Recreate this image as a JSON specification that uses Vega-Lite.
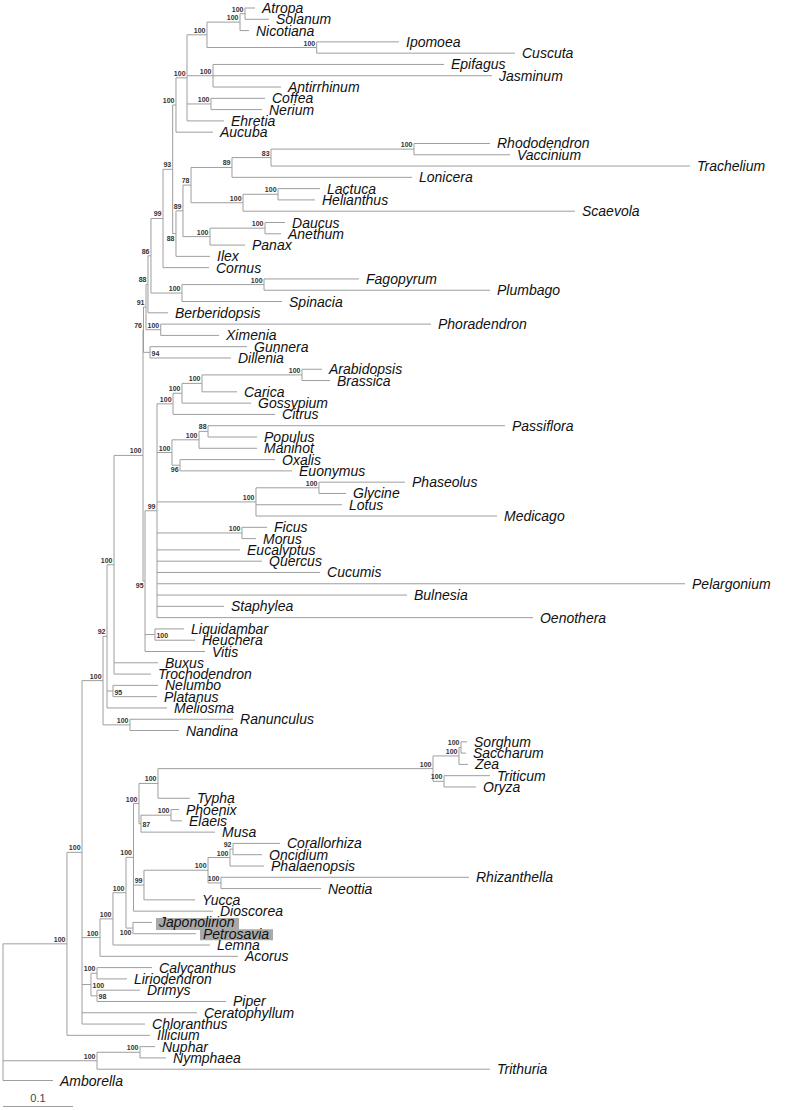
{
"$schema": "https://vega.github.io/schema/vega-lite/v6.json",
"width": 788, "height": 1110, "padding": 0, "autosize": {"type": "none"},
"background": "white",
"config": {"view": {"stroke": null}},
"datasets": {
"nodes": [
{"taxon":"Atropa","parent":"n_AS","d":0.36,"y":0},
{"taxon":"Solanum","parent":"n_AS","d":0.38,"y":1},
{"taxon":"Nicotiana","parent":"n_ASN","d":0.3514,"y":2},
{"taxon":"Ipomoea","parent":"n_IC","d":0.5657,"y":3},
{"taxon":"Cuscuta","parent":"n_IC","d":0.7314,"y":4},
{"taxon":"Epifagus","parent":"n_EJA","d":0.63,"y":5},
{"taxon":"Jasminum","parent":"n_EJA","d":0.6986,"y":6},
{"taxon":"Antirrhinum","parent":"n_EJA","d":0.3971,"y":7},
{"taxon":"Coffea","parent":"n_CN","d":0.3743,"y":8},
{"taxon":"Nerium","parent":"n_CN","d":0.37,"y":9},
{"taxon":"Ehretia","parent":"n_L","d":0.3157,"y":10},
{"taxon":"Aucuba","parent":"n_A","d":0.3,"y":11},
{"taxon":"Rhododendron","parent":"n_RV","d":0.6957,"y":12},
{"taxon":"Vaccinium","parent":"n_RV","d":0.7243,"y":13},
{"taxon":"Trachelium","parent":"n_N83","d":0.9814,"y":14},
{"taxon":"Lonicera","parent":"n_N89b","d":0.5843,"y":15},
{"taxon":"Lactuca","parent":"n_LH","d":0.4529,"y":16},
{"taxon":"Helianthus","parent":"n_LH","d":0.4457,"y":17},
{"taxon":"Scaevola","parent":"n_Ast","d":0.8171,"y":18},
{"taxon":"Daucus","parent":"n_DA","d":0.4029,"y":19},
{"taxon":"Anethum","parent":"n_DA","d":0.3971,"y":20},
{"taxon":"Panax","parent":"n_Api","d":0.3457,"y":21},
{"taxon":"Ilex","parent":"n_N88a","d":0.2957,"y":22},
{"taxon":"Cornus","parent":"n_N99a","d":0.2943,"y":23},
{"taxon":"Fagopyrum","parent":"n_FP","d":0.5086,"y":24},
{"taxon":"Plumbago","parent":"n_FP","d":0.6957,"y":25},
{"taxon":"Spinacia","parent":"n_Car","d":0.3986,"y":26},
{"taxon":"Berberidopsis","parent":"n_N88b","d":0.2357,"y":27},
{"taxon":"Phoradendron","parent":"n_San","d":0.6114,"y":28},
{"taxon":"Ximenia","parent":"n_San","d":0.3086,"y":29},
{"taxon":"Gunnera","parent":"n_GD","d":0.3486,"y":30},
{"taxon":"Dillenia","parent":"n_GD","d":0.3257,"y":31},
{"taxon":"Arabidopsis","parent":"n_AB","d":0.4557,"y":32},
{"taxon":"Brassica","parent":"n_AB","d":0.4671,"y":33},
{"taxon":"Carica","parent":"n_ABC","d":0.3343,"y":34},
{"taxon":"Gossypium","parent":"n_ABCG","d":0.3543,"y":35},
{"taxon":"Citrus","parent":"n_Malv","d":0.3886,"y":36},
{"taxon":"Passiflora","parent":"n_PP","d":0.7171,"y":37},
{"taxon":"Populus","parent":"n_PP","d":0.3629,"y":38},
{"taxon":"Manihot","parent":"n_PM","d":0.3629,"y":39},
{"taxon":"Oxalis","parent":"n_OE","d":0.3886,"y":40},
{"taxon":"Euonymus","parent":"n_OE","d":0.4129,"y":41},
{"taxon":"Phaseolus","parent":"n_PG","d":0.5743,"y":42},
{"taxon":"Glycine","parent":"n_PG","d":0.49,"y":43},
{"taxon":"Lotus","parent":"n_Fab","d":0.4843,"y":44},
{"taxon":"Medicago","parent":"n_Fab","d":0.7057,"y":45},
{"taxon":"Ficus","parent":"n_FM","d":0.3771,"y":46},
{"taxon":"Morus","parent":"n_FM","d":0.3614,"y":47},
{"taxon":"Eucalyptus","parent":"n_N99r","d":0.3386,"y":48},
{"taxon":"Quercus","parent":"n_N99r","d":0.37,"y":49},
{"taxon":"Cucumis","parent":"n_N99r","d":0.4529,"y":50},
{"taxon":"Pelargonium","parent":"n_N99r","d":0.9743,"y":51},
{"taxon":"Bulnesia","parent":"n_N99r","d":0.5771,"y":52},
{"taxon":"Staphylea","parent":"n_N99r","d":0.3157,"y":53},
{"taxon":"Oenothera","parent":"n_N99r","d":0.7571,"y":54},
{"taxon":"Liquidambar","parent":"n_Sax","d":0.2586,"y":55},
{"taxon":"Heuchera","parent":"n_Sax","d":0.2743,"y":56},
{"taxon":"Vitis","parent":"n_N95","d":0.2886,"y":57},
{"taxon":"Buxus","parent":"n_N100b","d":0.2214,"y":58},
{"taxon":"Trochodendron","parent":"n_N100b","d":0.2114,"y":59},
{"taxon":"Nelumbo","parent":"n_NP","d":0.2214,"y":60},
{"taxon":"Platanus","parent":"n_NP","d":0.22,"y":61},
{"taxon":"Meliosma","parent":"n_N92","d":0.2343,"y":62},
{"taxon":"Ranunculus","parent":"n_Ran","d":0.3286,"y":63},
{"taxon":"Nandina","parent":"n_Ran","d":0.2514,"y":64},
{"taxon":"Sorghum","parent":"n_SS","d":0.6629,"y":65},
{"taxon":"Saccharum","parent":"n_SS","d":0.6614,"y":66},
{"taxon":"Zea","parent":"n_PAC","d":0.6643,"y":67},
{"taxon":"Triticum","parent":"n_BEP","d":0.6957,"y":68},
{"taxon":"Oryza","parent":"n_BEP","d":0.6757,"y":69},
{"taxon":"Typha","parent":"n_Poa","d":0.2671,"y":70},
{"taxon":"Phoenix","parent":"n_Are","d":0.2514,"y":71},
{"taxon":"Elaeis","parent":"n_Are","d":0.2557,"y":72},
{"taxon":"Musa","parent":"n_N87","d":0.3029,"y":73},
{"taxon":"Corallorhiza","parent":"n_CO","d":0.3957,"y":74},
{"taxon":"Oncidium","parent":"n_CO","d":0.37,"y":75},
{"taxon":"Phalaenopsis","parent":"n_Epi","d":0.3729,"y":76},
{"taxon":"Rhizanthella","parent":"n_RN","d":0.6657,"y":77},
{"taxon":"Neottia","parent":"n_RN","d":0.4543,"y":78},
{"taxon":"Yucca","parent":"n_Asp","d":0.2743,"y":79},
{"taxon":"Dioscorea","parent":"n_N100x","d":0.3,"y":80},
{"taxon":"Japonolirion","parent":"n_Pet","d":0.2129,"y":81},
{"taxon":"Petrosavia","parent":"n_Pet","d":0.2757,"y":82},
{"taxon":"Lemna","parent":"n_N100g","d":0.2957,"y":83},
{"taxon":"Acorus","parent":"n_Mono","d":0.3357,"y":84},
{"taxon":"Calycanthus","parent":"n_LM","d":0.2129,"y":85},
{"taxon":"Liriodendron","parent":"n_LM","d":0.1771,"y":86},
{"taxon":"Drimys","parent":"n_N98","d":0.1957,"y":87},
{"taxon":"Piper","parent":"n_N98","d":0.3186,"y":88},
{"taxon":"Ceratophyllum","parent":"n_N100d","d":0.2771,"y":89},
{"taxon":"Chloranthus","parent":"n_N100d","d":0.2029,"y":90},
{"taxon":"Illicium","parent":"n_N100e","d":0.21,"y":91},
{"taxon":"Nuphar","parent":"n_NN","d":0.2171,"y":92},
{"taxon":"Nymphaea","parent":"n_NN","d":0.2329,"y":93},
{"taxon":"Trithuria","parent":"n_Nym","d":0.6957,"y":94},
{"taxon":"Amborella","parent":"n_Root","d":0.0714,"y":95},
{"id":"n_AS","parent":"n_ASN","d":0.3457,"y":0.5},
{"id":"n_ASN","parent":"n_SC","d":0.3386,"y":1.25},
{"id":"n_IC","parent":"n_SC","d":0.4481,"y":3.5},
{"id":"n_SC","parent":"n_L","d":0.2914,"y":2.375},
{"id":"n_EJA","parent":"n_L","d":0.3,"y":6},
{"id":"n_CN","parent":"n_L","d":0.2971,"y":8.5},
{"id":"n_L","parent":"n_A","d":0.2629,"y":6.1875},
{"id":"n_A","parent":"n_N93","d":0.2471,"y":8.5938},
{"id":"n_RV","parent":"n_N83","d":0.5871,"y":12.5},
{"id":"n_N83","parent":"n_N89b","d":0.3829,"y":13.25},
{"id":"n_N89b","parent":"n_N78","d":0.3271,"y":14.125},
{"id":"n_LH","parent":"n_Ast","d":0.3929,"y":16.5},
{"id":"n_Ast","parent":"n_N78","d":0.3429,"y":17.25},
{"id":"n_N78","parent":"n_N89","d":0.2686,"y":15.6875},
{"id":"n_DA","parent":"n_Api","d":0.3743,"y":19.5},
{"id":"n_Api","parent":"n_N89","d":0.2957,"y":20.25},
{"id":"n_N89","parent":"n_N88a","d":0.2571,"y":17.9688},
{"id":"n_N88a","parent":"n_N93","d":0.2471,"y":19.9844},
{"id":"n_N93","parent":"n_N99a","d":0.2424,"y":14.2891},
{"id":"n_N99a","parent":"n_N86","d":0.2286,"y":18.6445},
{"id":"n_FP","parent":"n_Car","d":0.3729,"y":24.5},
{"id":"n_Car","parent":"n_N86","d":0.2557,"y":25.25},
{"id":"n_N86","parent":"n_N88b","d":0.2114,"y":21.9473},
{"id":"n_N88b","parent":"n_N91","d":0.2071,"y":24.4736},
{"id":"n_San","parent":"n_N91","d":0.2253,"y":28.5},
{"id":"n_N91","parent":"n_N76","d":0.2043,"y":26.4868},
{"id":"n_GD","parent":"n_N76","d":0.21,"y":30.5},
{"id":"n_N76","parent":"n_N100a","d":0.2007,"y":28.4934},
{"id":"n_AB","parent":"n_ABC","d":0.4271,"y":32.5},
{"id":"n_ABC","parent":"n_ABCG","d":0.2843,"y":33.25},
{"id":"n_ABCG","parent":"n_Malv","d":0.2557,"y":34.125},
{"id":"n_Malv","parent":"n_N99r","d":0.2429,"y":35.0625},
{"id":"n_PP","parent":"n_PM","d":0.2929,"y":37.5},
{"id":"n_PM","parent":"n_COM","d":0.28,"y":38.25},
{"id":"n_OE","parent":"n_COM","d":0.2529,"y":40.5},
{"id":"n_COM","parent":"n_N99r","d":0.2414,"y":39.375},
{"id":"n_PG","parent":"n_Fab","d":0.4514,"y":42.5},
{"id":"n_Fab","parent":"n_N99r","d":0.3614,"y":43.75},
{"id":"n_FM","parent":"n_N99r","d":0.3414,"y":46.5},
{"id":"n_N99r","parent":"n_N95","d":0.22,"y":44.5313},
{"id":"n_Sax","parent":"n_N95","d":0.2171,"y":55.5},
{"id":"n_N95","parent":"n_N100a","d":0.2029,"y":50.7656},
{"id":"n_N100a","parent":"n_N100b","d":0.2,"y":39.6295},
{"id":"n_N100b","parent":"n_N92","d":0.1586,"y":49.3148},
{"id":"n_NP","parent":"n_N92","d":0.1571,"y":60.5},
{"id":"n_N92","parent":"n_Eud","d":0.1486,"y":55.6574},
{"id":"n_Ran","parent":"n_Eud","d":0.1814,"y":63.5},
{"id":"n_Eud","parent":"n_N100d","d":0.1429,"y":59.5787},
{"id":"n_SS","parent":"n_PAC","d":0.6543,"y":65.5},
{"id":"n_PAC","parent":"n_Gr","d":0.6514,"y":66.25},
{"id":"n_BEP","parent":"n_Gr","d":0.63,"y":68.5},
{"id":"n_Gr","parent":"n_Poa","d":0.6143,"y":67.375},
{"id":"n_Poa","parent":"n_Com","d":0.2214,"y":68.6875},
{"id":"n_Are","parent":"n_N87","d":0.24,"y":71.5},
{"id":"n_N87","parent":"n_Com","d":0.1971,"y":72.25},
{"id":"n_Com","parent":"n_N100x","d":0.1943,"y":70.4688},
{"id":"n_CO","parent":"n_Epi","d":0.3286,"y":74.5},
{"id":"n_Epi","parent":"n_Orc","d":0.3243,"y":75.25},
{"id":"n_RN","parent":"n_Orc","d":0.3114,"y":77.5},
{"id":"n_Orc","parent":"n_Asp","d":0.2929,"y":76.375},
{"id":"n_Asp","parent":"n_N100x","d":0.2014,"y":77.6875},
{"id":"n_N100x","parent":"n_N100h","d":0.1864,"y":75.2344},
{"id":"n_Pet","parent":"n_N100h","d":0.1857,"y":81.5},
{"id":"n_N100h","parent":"n_N100g","d":0.1757,"y":78.3672},
{"id":"n_N100g","parent":"n_Mono","d":0.1571,"y":80.6836},
{"id":"n_Mono","parent":"n_N100d","d":0.1386,"y":82.3418},
{"id":"n_LM","parent":"n_Mag","d":0.1343,"y":85.5},
{"id":"n_N98","parent":"n_Mag","d":0.1343,"y":87.5},
{"id":"n_Mag","parent":"n_N100d","d":0.1257,"y":86.5},
{"id":"n_N100d","parent":"n_N100e","d":0.1129,"y":74.7894},
{"id":"n_N100e","parent":"n_Root","d":0.0914,"y":82.8947},
{"id":"n_NN","parent":"n_Nym","d":0.1957,"y":92.5},
{"id":"n_Nym","parent":"n_Root","d":0.1343,"y":93.25},
{"id":"n_Root","parent":null,"d":0,"y":88.9474}
],
"bsAbove": [
{"node":"n_AS","bs":"100"},{"node":"n_ASN","bs":"100"},{"node":"n_IC","bs":"100"},{"node":"n_SC","bs":"100"},
{"node":"n_EJA","bs":"100"},{"node":"n_CN","bs":"100"},{"node":"n_L","bs":"100"},{"node":"n_A","bs":"100"},
{"node":"n_RV","bs":"100"},{"node":"n_N83","bs":"83"},{"node":"n_N89b","bs":"89"},{"node":"n_LH","bs":"100"},
{"node":"n_Ast","bs":"100"},{"node":"n_N78","bs":"78"},{"node":"n_DA","bs":"100"},{"node":"n_Api","bs":"100"},
{"node":"n_N89","bs":"89"},{"node":"n_N93","bs":"93"},{"node":"n_N99a","bs":"99"},{"node":"n_FP","bs":"100"},
{"node":"n_Car","bs":"100"},{"node":"n_N86","bs":"86"},{"node":"n_N88b","bs":"88"},{"node":"n_San","bs":"100"},
{"node":"n_N91","bs":"91"},{"node":"n_N76","bs":"76"},{"node":"n_AB","bs":"100"},{"node":"n_ABC","bs":"100"},
{"node":"n_ABCG","bs":"100"},{"node":"n_Malv","bs":"100"},{"node":"n_PP","bs":"88"},{"node":"n_PM","bs":"100"},
{"node":"n_COM","bs":"100"},{"node":"n_PG","bs":"100"},{"node":"n_Fab","bs":"100"},{"node":"n_FM","bs":"100"},
{"node":"n_N99r","bs":"99"},{"node":"n_N100a","bs":"100"},{"node":"n_N100b","bs":"100"},{"node":"n_N92","bs":"92"},
{"node":"n_Ran","bs":"100"},{"node":"n_Eud","bs":"100"},{"node":"n_SS","bs":"100"},{"node":"n_PAC","bs":"100"},
{"node":"n_BEP","bs":"100"},{"node":"n_Gr","bs":"100"},{"node":"n_Poa","bs":"100"},{"node":"n_Are","bs":"100"},
{"node":"n_Com","bs":"100"},{"node":"n_CO","bs":"92"},{"node":"n_Epi","bs":"100"},{"node":"n_RN","bs":"100"},
{"node":"n_Orc","bs":"100"},{"node":"n_Asp","bs":"99"},{"node":"n_N100x","bs":"100"},{"node":"n_N100h","bs":"100"},
{"node":"n_N100g","bs":"100"},{"node":"n_Mono","bs":"100"},{"node":"n_LM","bs":"100"},{"node":"n_N100d","bs":"100"},
{"node":"n_N100e","bs":"100"},{"node":"n_NN","bs":"100"},{"node":"n_Nym","bs":"100"}
],
"bsBelow": [
{"node":"n_OE","bs":"96"},{"node":"n_Pet","bs":"100"},{"node":"n_N88a","bs":"88"},{"node":"n_N95","bs":"95"}
],
"bsRight": [
{"node":"n_GD","bs":"94"},{"node":"n_NP","bs":"95"},{"node":"n_Sax","bs":"100"},{"node":"n_N87","bs":"87"},
{"node":"n_N98","bs":"98"},{"node":"n_Mag","bs":"100"}
],
"scalebar": [{"d0":0,"d1":0.1,"dm":0.05,"y":97.3,"label":"0.1"}]
},
"layer": [
{
"data": {"name": "nodes"},
"transform": [
{"filter": "datum.taxon === 'Japonolirion'"}
],
"mark": {"type": "rect", "fill": "#a9a9a9", "xOffset": 4, "x2Offset": 87, "yOffset": -4.5, "y2Offset": 7.5},
"encoding": {
"x": {"field": "d", "type": "quantitative", "scale": {"domain": [0, 1.1], "range": [3, 773], "nice": false, "zero": false}, "axis": null},
"x2": {"field": "d"},
"y": {"field": "y", "type": "quantitative", "scale": {"domain": [0, 95], "range": [8, 1080.5], "nice": false, "zero": false}, "axis": null},
"y2": {"field": "y"}
}
},
{
"data": {"name": "nodes"},
"transform": [
{"filter": "datum.taxon === 'Petrosavia'"}
],
"mark": {"type": "rect", "fill": "#a9a9a9", "xOffset": 4, "x2Offset": 77, "yOffset": -4.5, "y2Offset": 6.5},
"encoding": {
"x": {"field": "d", "type": "quantitative", "scale": {"domain": [0, 1.1], "range": [3, 773], "nice": false, "zero": false}, "axis": null},
"x2": {"field": "d"},
"y": {"field": "y", "type": "quantitative", "scale": {"domain": [0, 95], "range": [8, 1080.5], "nice": false, "zero": false}, "axis": null},
"y2": {"field": "y"}
}
},
{
"data": {"name": "nodes"},
"transform": [
{"filter": "datum.parent != null"},
{"lookup": "parent", "from": {"data": {"name": "nodes"}, "key": "id", "fields": ["d"]}, "as": ["pd"]}
],
"mark": {"type": "rule", "stroke": "#9e9e9e", "strokeWidth": 1},
"encoding": {
"x": {"field": "pd", "type": "quantitative", "scale": {"domain": [0, 1.1], "range": [3, 773], "nice": false, "zero": false}, "axis": null},
"x2": {"field": "d"},
"y": {"field": "y", "type": "quantitative", "scale": {"domain": [0, 95], "range": [8, 1080.5], "nice": false, "zero": false}, "axis": null}
}
},
{
"data": {"name": "nodes"},
"transform": [
{"filter": "datum.parent != null"},
{"aggregate": [{"op": "min", "field": "y", "as": "y0"}, {"op": "max", "field": "y", "as": "y1"}], "groupby": ["parent"]},
{"lookup": "parent", "from": {"data": {"name": "nodes"}, "key": "id", "fields": ["d"]}, "as": ["pd"]}
],
"mark": {"type": "rule", "stroke": "#9e9e9e", "strokeWidth": 1},
"encoding": {
"x": {"field": "pd", "type": "quantitative", "scale": {"domain": [0, 1.1], "range": [3, 773], "nice": false, "zero": false}, "axis": null},
"y": {"field": "y0", "type": "quantitative", "scale": {"domain": [0, 95], "range": [8, 1080.5], "nice": false, "zero": false}, "axis": null},
"y2": {"field": "y1"}
}
},
{
"data": {"name": "nodes"},
"transform": [{"filter": "isValid(datum.taxon)"}],
"mark": {"type": "text", "align": "left", "baseline": "middle", "dx": 7, "dy": 1, "font": "Liberation Sans", "fontStyle": "italic", "fontSize": 14, "fill": "#111111"},
"encoding": {
"x": {"field": "d", "type": "quantitative", "scale": {"domain": [0, 1.1], "range": [3, 773], "nice": false, "zero": false}, "axis": null},
"y": {"field": "y", "type": "quantitative", "scale": {"domain": [0, 95], "range": [8, 1080.5], "nice": false, "zero": false}, "axis": null},
"text": {"field": "taxon"}
}
},
{
"data": {"name": "bsAbove"},
"transform": [{"lookup": "node", "from": {"data": {"name": "nodes"}, "key": "id", "fields": ["d", "y"]}}],
"mark": {"type": "text", "align": "right", "baseline": "alphabetic", "dx": -1.5, "dy": -2, "font": "Liberation Sans", "fontWeight": "bold", "fontSize": 7, "fill": "#333333"},
"encoding": {
"x": {"field": "d", "type": "quantitative", "scale": {"domain": [0, 1.1], "range": [3, 773], "nice": false, "zero": false}, "axis": null},
"y": {"field": "y", "type": "quantitative", "scale": {"domain": [0, 95], "range": [8, 1080.5], "nice": false, "zero": false}, "axis": null},
"text": {"field": "bs"}
}
},
{
"data": {"name": "bsBelow"},
"transform": [{"lookup": "node", "from": {"data": {"name": "nodes"}, "key": "id", "fields": ["d", "y"]}}],
"mark": {"type": "text", "align": "right", "baseline": "top", "dx": -1.5, "dy": 1, "font": "Liberation Sans", "fontWeight": "bold", "fontSize": 7, "fill": "#333333"},
"encoding": {
"x": {"field": "d", "type": "quantitative", "scale": {"domain": [0, 1.1], "range": [3, 773], "nice": false, "zero": false}, "axis": null},
"y": {"field": "y", "type": "quantitative", "scale": {"domain": [0, 95], "range": [8, 1080.5], "nice": false, "zero": false}, "axis": null},
"text": {"field": "bs"}
}
},
{
"data": {"name": "bsRight"},
"transform": [{"lookup": "node", "from": {"data": {"name": "nodes"}, "key": "id", "fields": ["d", "y"]}}],
"mark": {"type": "text", "align": "left", "baseline": "middle", "dx": 1.5, "dy": 1.5, "font": "Liberation Sans", "fontWeight": "bold", "fontSize": 7, "fill": "#333333"},
"encoding": {
"x": {"field": "d", "type": "quantitative", "scale": {"domain": [0, 1.1], "range": [3, 773], "nice": false, "zero": false}, "axis": null},
"y": {"field": "y", "type": "quantitative", "scale": {"domain": [0, 95], "range": [8, 1080.5], "nice": false, "zero": false}, "axis": null},
"text": {"field": "bs"}
}
},
{
"data": {"name": "scalebar"},
"mark": {"type": "rule", "stroke": "#9e9e9e", "strokeWidth": 1},
"encoding": {
"x": {"field": "d0", "type": "quantitative", "scale": {"domain": [0, 1.1], "range": [3, 773], "nice": false, "zero": false}, "axis": null},
"x2": {"field": "d1"},
"y": {"field": "y", "type": "quantitative", "scale": {"domain": [0, 95], "range": [8, 1080.5], "nice": false, "zero": false}, "axis": null}
}
},
{
"data": {"name": "scalebar"},
"mark": {"type": "text", "align": "center", "baseline": "alphabetic", "dy": -4, "font": "Liberation Sans", "fontSize": 11, "fill": "#444444"},
"encoding": {
"x": {"field": "dm", "type": "quantitative", "scale": {"domain": [0, 1.1], "range": [3, 773], "nice": false, "zero": false}, "axis": null},
"y": {"field": "y", "type": "quantitative", "scale": {"domain": [0, 95], "range": [8, 1080.5], "nice": false, "zero": false}, "axis": null},
"text": {"field": "label"}
}
}
]
}
